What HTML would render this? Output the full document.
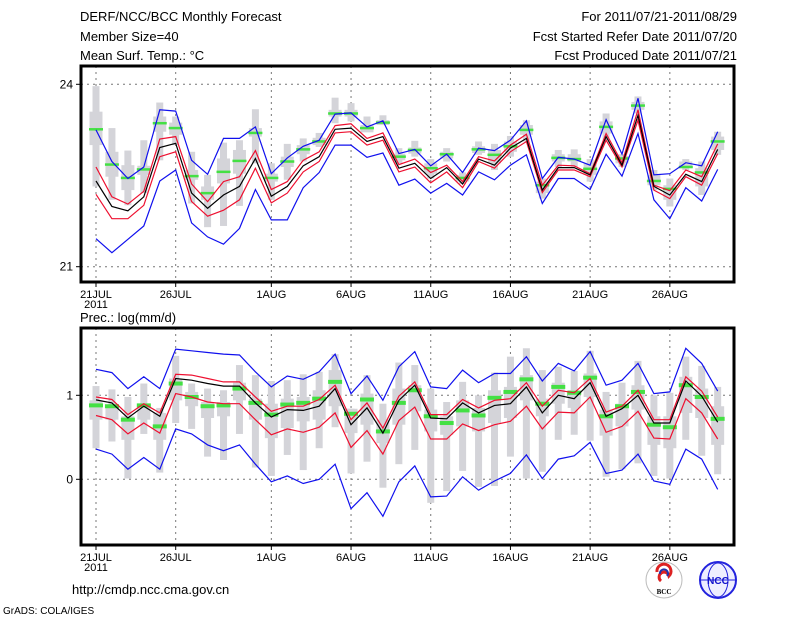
<!DOCTYPE html>
<html><head><meta charset="utf-8"><style>
body{margin:0;background:#fff;width:800px;height:618px;overflow:hidden}
svg{display:block;font-family:"Liberation Sans",sans-serif}
</style></head><body>
<svg id="chart" width="800" height="618" viewBox="0 0 800 618">
<g font-size="13" fill="#000">
<text x="80" y="21">DERF/NCC/BCC Monthly Forecast</text>
<text x="80" y="41">Member Size=40</text>
<text x="80" y="60">Mean Surf. Temp.: °C</text>
<text x="737" y="21" text-anchor="end">For 2011/07/21-2011/08/29</text>
<text x="737" y="41" text-anchor="end">Fcst Started Refer Date 2011/07/20</text>
<text x="737" y="60" text-anchor="end">Fcst Produced Date 2011/07/21</text>
<text x="80" y="322">Prec.: log(mm/d)</text>
<text x="72" y="594">http://cmdp.ncc.cma.gov.cn</text>
<text x="3" y="614" font-size="10">GrADS: COLA/IGES</text>
</g>
<g>
<circle cx="664" cy="580" r="18" fill="#fff" stroke="#bbb"/>
<path d="M657 572 a7 7 0 1 1 12 4 a5 5 0 1 0 -8 5" fill="none" stroke="#d22" stroke-width="3"/>
<path d="M660 574 a4 4 0 1 1 7 2" fill="none" stroke="#23a" stroke-width="2"/>
<text x="664" y="594" font-size="7" text-anchor="middle" font-family="Liberation Serif,serif" font-weight="bold">BCC</text>
<circle cx="718" cy="580" r="18" fill="#eef" stroke="#22d" stroke-width="2"/>
<ellipse cx="718" cy="580" rx="10" ry="17" fill="none" stroke="#22d"/>
<line x1="700" y1="580" x2="736" y2="580" stroke="#22d"/>
<text x="718" y="584" font-size="10" text-anchor="middle" fill="#11c" font-weight="bold">NCC</text>
</g>
<g id="plots"></g>
</svg>
<script>
// ---- Temperature panel data (°C) ----
const days = Array.from({length:40},(_, i)=>i);
const tickDays = [0,5,11,16,21,26,31,36];
const tickLabels = ["21JUL","26JUL","1AUG","6AUG","11AUG","16AUG","21AUG","26AUG"];
const tBlueTop=[23.25,22.73,22.45,22.64,23.58,23.56,22.75,22.52,23.11,23.11,23.30,22.53,22.79,22.98,23.08,23.51,23.53,23.30,23.40,22.86,22.93,22.66,22.85,22.55,22.95,22.91,23.08,23.40,22.45,22.80,22.77,22.67,23.42,22.85,23.77,22.51,22.53,22.71,22.66,23.22];
const tRedTop=[22.64,22.15,22.03,22.24,23.10,23.14,22.36,22.07,22.40,22.48,22.91,22.27,22.40,22.75,22.89,23.32,23.35,23.11,23.20,22.68,22.77,22.55,22.67,22.40,22.81,22.74,23.00,23.18,22.34,22.67,22.66,22.53,23.19,22.71,23.58,22.34,22.25,22.59,22.48,23.02];
const tMean=[22.41,21.99,21.92,22.15,22.96,23.03,22.21,21.96,22.18,22.32,22.78,22.16,22.32,22.66,22.81,23.26,23.28,23.06,23.14,22.62,22.70,22.45,22.63,22.36,22.77,22.67,22.95,23.11,22.26,22.63,22.63,22.51,23.14,22.67,23.49,22.32,22.18,22.52,22.40,22.93];
const tRedBot=[22.19,21.79,21.79,22.01,22.81,22.89,22.07,21.83,21.93,22.10,22.62,22.05,22.21,22.56,22.73,23.20,23.22,23.00,23.08,22.56,22.64,22.38,22.56,22.30,22.73,22.62,22.89,23.06,22.22,22.59,22.59,22.48,23.08,22.64,23.41,22.26,22.12,22.48,22.34,22.86];
const tBlueBot=[21.46,21.23,21.45,21.67,22.41,22.59,21.72,21.49,21.37,21.63,22.27,21.77,21.77,22.30,22.55,23.00,23.00,22.80,22.87,22.34,22.44,22.21,22.37,22.18,22.56,22.43,22.67,22.84,22.04,22.45,22.45,22.27,22.85,22.49,23.19,22.10,21.79,22.30,22.08,22.60];
const tObs=[23.26,22.68,22.46,22.60,23.36,23.28,22.49,22.21,22.56,22.74,23.20,22.46,22.73,22.93,23.06,23.52,23.52,23.28,23.37,22.81,22.92,22.62,22.85,22.46,22.93,22.84,22.98,23.25,22.34,22.79,22.77,22.61,23.30,22.78,23.65,22.41,22.28,22.64,22.55,23.06];
const tBarHi=[23.97,23.28,22.91,23.08,23.70,23.47,22.89,22.51,23.04,23.08,23.59,22.70,23.02,23.11,23.20,23.78,23.69,23.47,23.49,22.95,23.07,22.77,22.95,22.55,23.06,23.02,23.15,23.41,22.45,22.92,22.93,22.77,23.52,22.85,23.80,22.59,22.45,22.77,22.73,23.22];
const tBarLo=[22.32,22.10,22.01,22.21,22.75,23.00,22.04,21.65,21.67,22.00,22.70,22.10,22.43,22.73,22.97,23.36,23.39,23.22,23.33,22.70,22.81,22.45,22.73,22.36,22.84,22.59,22.81,23.06,22.12,22.64,22.64,22.40,23.08,22.64,23.52,22.26,21.99,22.59,22.18,22.84];
const tBoxHi=[23.55,22.89,22.67,22.66,23.47,23.37,22.59,22.32,22.78,22.92,23.28,22.53,22.81,23.00,23.12,23.58,23.58,23.33,23.41,22.86,22.96,22.70,22.89,22.51,22.98,22.92,23.06,23.33,22.40,22.85,22.85,22.70,23.39,22.82,23.71,22.51,22.34,22.73,22.62,23.14];
const tBoxLo=[23.00,22.48,22.26,22.51,23.22,23.17,22.43,22.10,22.37,22.53,23.14,22.40,22.64,22.85,23.00,23.47,23.47,23.21,23.33,22.75,22.86,22.53,22.78,22.40,22.87,22.70,22.89,23.17,22.21,22.73,22.73,22.51,23.19,22.70,23.58,22.34,22.10,22.62,22.32,22.92];
const tTicks=[24,21], tTickLabels=["24","21"];
// ---- Precipitation panel data (log mm/d) ----
const pBlueTop=[1.31,1.27,1.08,1.22,1.08,1.55,1.53,1.51,1.49,1.48,1.28,1.10,1.23,1.19,1.28,1.49,1.02,1.23,0.94,1.34,1.52,1.10,1.08,1.30,1.15,1.26,1.26,1.46,1.17,1.38,1.29,1.52,1.12,1.18,1.38,1.02,1.04,1.56,1.38,1.05];
const pRedTop=[0.98,0.95,0.77,0.90,0.79,1.25,1.24,1.20,1.16,1.16,0.98,0.81,0.87,0.87,0.95,1.12,0.71,0.91,0.61,0.99,1.16,0.77,0.77,0.95,0.85,0.94,0.96,1.15,0.87,1.06,1.03,1.20,0.80,0.87,1.06,0.71,0.71,1.22,1.05,0.74];
const pMean=[0.945,0.91,0.73,0.87,0.75,1.20,1.18,1.14,1.11,1.11,0.91,0.74,0.83,0.82,0.87,1.08,0.65,0.85,0.55,0.94,1.12,0.73,0.72,0.91,0.79,0.88,0.90,1.10,0.79,1.00,0.96,1.15,0.75,0.84,1.00,0.67,0.67,1.17,0.99,0.68];
const pRedBot=[0.76,0.71,0.54,0.67,0.55,1.02,0.98,0.92,0.90,0.90,0.71,0.53,0.60,0.56,0.62,0.79,0.38,0.58,0.30,0.70,0.86,0.48,0.48,0.66,0.58,0.65,0.69,0.87,0.60,0.80,0.79,0.98,0.56,0.63,0.81,0.49,0.48,0.96,0.79,0.48];
const pBlueBot=[0.36,0.30,0.12,0.26,0.12,0.60,0.54,0.41,0.34,0.41,0.18,-0.03,0.04,-0.05,0.00,0.18,-0.35,-0.16,-0.44,-0.03,0.16,-0.21,-0.20,0.03,-0.13,-0.02,0.07,0.29,0.01,0.24,0.28,0.44,0.07,0.11,0.30,-0.02,-0.06,0.36,0.24,-0.12];
const pObs=[0.88,0.87,0.71,0.88,0.63,1.14,0.98,0.87,0.88,1.08,0.91,0.77,0.89,0.91,0.96,1.16,0.78,0.95,0.57,0.91,1.06,0.75,0.67,0.82,0.76,0.97,1.04,1.19,0.90,1.10,1.03,1.21,0.75,0.87,1.04,0.65,0.62,1.12,0.98,0.72];
const pBarHi=[1.11,1.07,0.98,1.14,0.85,1.47,1.14,1.08,1.06,1.36,1.24,1.17,1.18,1.25,1.28,1.49,0.84,1.24,0.90,1.39,1.36,1.08,0.92,1.16,1.00,1.27,1.46,1.56,1.30,1.34,1.29,1.53,1.04,1.15,1.41,1.00,1.03,1.46,1.35,1.10];
const pBarLo=[0.37,0.45,0.01,0.54,0.08,0.67,0.60,0.27,0.23,0.54,0.14,0.04,0.29,0.11,0.37,0.62,0.07,0.21,-0.10,0.18,0.35,-0.28,-0.14,0.10,-0.09,-0.08,0.27,0.01,0.09,0.47,0.53,0.46,0.03,0.12,0.19,0.04,0.01,0.47,0.28,0.06];
const pBoxHi=[0.94,0.89,0.75,0.90,0.79,1.20,1.04,0.92,0.92,1.15,0.96,0.90,0.96,0.98,1.06,1.30,0.84,1.02,0.71,1.08,1.12,0.83,0.75,0.94,0.85,1.06,1.10,1.24,0.96,1.15,1.06,1.26,0.83,0.90,1.12,0.75,0.75,1.22,1.08,0.87];
const pBoxLo=[0.71,0.71,0.47,0.71,0.47,0.94,0.87,0.73,0.75,0.94,0.71,0.49,0.61,0.69,0.71,0.87,0.55,0.65,0.43,0.65,0.81,0.57,0.53,0.63,0.57,0.67,0.73,0.94,0.75,0.90,0.85,0.98,0.52,0.63,0.83,0.41,0.37,0.79,0.73,0.41];
const pTicks=[1,0], pTickLabels=["1","0"];

const NS="http://www.w3.org/2000/svg";
const root=document.getElementById('plots');
function mk(tag,attrs,parent){const e=document.createElementNS(NS,tag);for(const k in attrs)e.setAttribute(k,attrs[k]);(parent||root).appendChild(e);return e;}
const xLeft=81,xRight=734;
function xScale(d){return 96+d*15.94;}

function panel(cfg){
  const g=mk('g',{});
  
  
  const y=v=>cfg.y0+(v-cfg.v0)*(cfg.y1-cfg.y0)/(cfg.v1-cfg.v0);
  tickDays.forEach((d,i)=>{
    const l=mk('line',{x1:xScale(d),x2:xScale(d),y1:cfg.top,y2:cfg.bot,stroke:'#777','stroke-dasharray':'2,4'},g);
    
    
    const tk=mk('line',{x1:xScale(d),x2:xScale(d),y1:cfg.bot,y2:cfg.bot+5,stroke:'#000'},g);
    
    
    const t=mk('text',{x:xScale(d),y:cfg.bot+16,'font-size':'11','text-anchor':'middle'},g);
    t.textContent=tickLabels[i];
    
    
  });
  const yr=mk('text',{x:96,y:cfg.bot+26,'font-size':'11','text-anchor':'middle'},g);
  yr.textContent='2011';
  
  
  cfg.ticks.forEach((v,i)=>{
    const l=mk('line',{x1:xLeft,x2:xRight,y1:y(v),y2:y(v),stroke:'#777','stroke-dasharray':'2,4'},g);
    
    
    const tk=mk('line',{x1:xLeft-5,x2:xLeft,y1:y(v),y2:y(v),stroke:'#000'},g);
    
    
    const t=mk('text',{x:xLeft-8,y:y(v)+4,'font-size':'12','text-anchor':'end'},g);
    t.textContent=cfg.tickLabels[i];
    
    
  });
  days.forEach(d=>{
    const x=xScale(d);
    const b=mk('rect',{x:x-3.5,width:7,y:y(cfg.barHi[d]),height:Math.max(1,y(cfg.barLo[d])-y(cfg.barHi[d])),fill:'#d4d4d9'},g);
    
    
    const bx=mk('rect',{x:x-6.5,width:13,y:y(cfg.boxHi[d]),height:Math.max(1,y(cfg.boxLo[d])-y(cfg.boxHi[d])),fill:'#d4d4d9'},g);
    
    
  });
  days.forEach(d=>{
    const m=mk('rect',{x:xScale(d)-7,width:14,y:y(cfg.obs[d])-cfg.gh/2,height:cfg.gh,fill:'#44e044'},g);
    
    
  });
  const series=[[cfg.blueTop,'#1010ee','blue-max-line'],[cfg.blueBot,'#1010ee','blue-min-line'],[cfg.redTop,'#ee1030','red-upper-line'],[cfg.redBot,'#ee1030','red-lower-line'],[cfg.mean,'#000','ensemble-mean-line']];
  series.forEach(s=>{
    const p=mk('polyline',{points:days.map(d=>xScale(d).toFixed(1)+','+y(s[0][d]).toFixed(1)).join(' '),fill:'none',stroke:s[1],'stroke-width':'1.2'},g);
    
    
  });
  const f=mk('rect',{x:xLeft,y:cfg.top,width:xRight-xLeft,height:cfg.bot-cfg.top,fill:'none',stroke:'#000','stroke-width':'3'},g);
  
  
}
panel({name:'temperature-panel',top:66,bot:282,y0:84.3,v0:24,y1:266.7,v1:21,ticks:tTicks,tickLabels:tTickLabels,
  blueTop:tBlueTop,redTop:tRedTop,mean:tMean,redBot:tRedBot,blueBot:tBlueBot,obs:tObs,barHi:tBarHi,barLo:tBarLo,boxHi:tBoxHi,boxLo:tBoxLo,gh:2.5});
panel({name:'precipitation-panel',top:328,bot:545,y0:395.3,v0:1,y1:479.3,v1:0,ticks:pTicks,tickLabels:pTickLabels,
  blueTop:pBlueTop,redTop:pRedTop,mean:pMean,redBot:pRedBot,blueBot:pBlueBot,obs:pObs,barHi:pBarHi,barLo:pBarLo,boxHi:pBoxHi,boxLo:pBoxLo,gh:4});
</script>
</body></html>
